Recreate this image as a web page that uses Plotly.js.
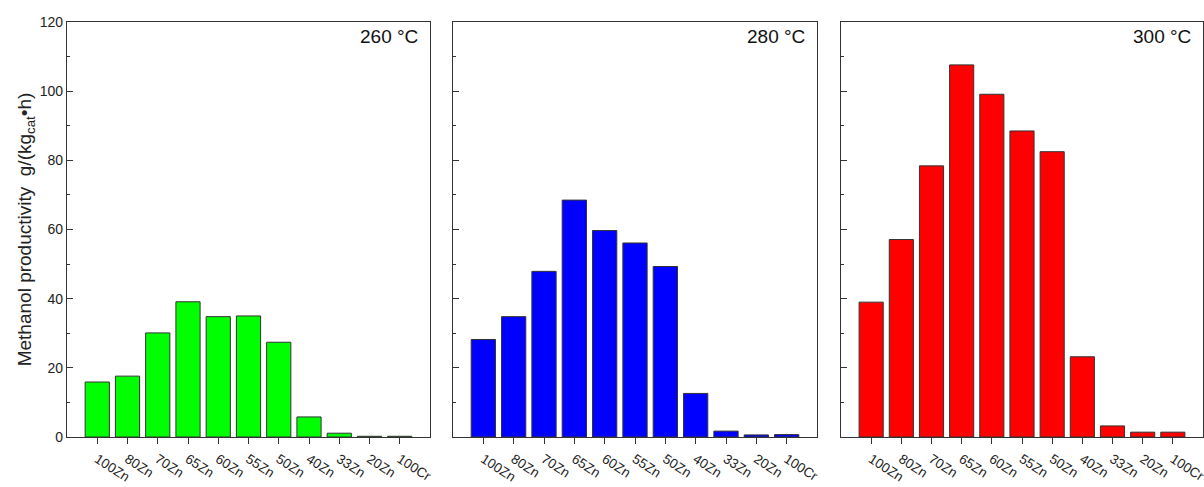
<!DOCTYPE html>
<html>
<head>
<meta charset="utf-8">
<script src="https://cdn.plot.ly/plotly-3.0.1.min.js"></script>
<style>html,body{margin:0;padding:0;background:#fff;}#chart{width:1204px;height:487px;}</style>
</head>
<body>
<div id="chart"></div>
<script>
const categories = ['100Zn','80Zn','70Zn','65Zn','60Zn','55Zn','50Zn','40Zn','33Zn','20Zn','100Cr'];
const vals260 = [15.9, 17.6, 30.1, 39.1, 34.8, 35.0, 27.4, 5.8, 1.1, 0.2, 0.2];
const vals280 = [28.2, 34.8, 47.9, 68.5, 59.7, 56.1, 49.3, 12.6, 1.7, 0.6, 0.7];
const vals300 = [39.0, 57.1, 78.4, 107.6, 99.1, 88.5, 82.5, 23.2, 3.2, 1.4, 1.4];
const panelLabels = ['260 °C', '280 °C', '300 °C'];
const yTitle = 'Methanol productivity\u00a0\u00a0g/(kg<sub>cat</sub>•h)';

const colors = ['#00ff00', '#0000ff', '#ff0000'];
const series = [vals260, vals280, vals300];
const axisColor = '#333333';
const font = 'Liberation Sans, Arial, sans-serif';

const traces = series.map((v, i) => ({
  type: 'bar',
  x: categories,
  y: v,
  xaxis: i === 0 ? 'x' : 'x' + (i + 1),
  yaxis: i === 0 ? 'y' : 'y' + (i + 1),
  width: 0.8,
  marker: {color: colors[i], line: {color: '#333333', width: 1}},
  hoverinfo: 'x+y',
  showlegend: false
}));

const W = 1136;
const domains = [[0, (430-67)/W], [(453-67)/W, (817-67)/W], [(841-67)/W, 1]];

const layout = {
  width: 1204, height: 487,
  margin: {l: 67, r: 1, t: 22, b: 50},
  paper_bgcolor: '#ffffff', plot_bgcolor: '#ffffff',
  font: {family: font, color: '#222222'},
  bargap: 0.2,
  annotations: panelLabels.map((t, i) => ({
    text: t, showarrow: false,
    xref: (i === 0 ? 'x' : 'x' + (i + 1)) + ' domain',
    yref: (i === 0 ? 'y' : 'y' + (i + 1)) + ' domain',
    x: 1, y: 1, xanchor: 'right', yanchor: 'top', xshift: -10, yshift: -2,
    font: {size: 19, family: font, color: '#111111'}
  }))
};

for (let i = 0; i < 3; i++) {
  const xa = i === 0 ? 'xaxis' : 'xaxis' + (i + 1);
  const ya = i === 0 ? 'yaxis' : 'yaxis' + (i + 1);
  layout[xa] = {
    domain: domains[i], anchor: i === 0 ? 'y' : 'y' + (i + 1),
    type: 'category', range: [-1, 11],
    showline: true, linecolor: axisColor, linewidth: 1.3, mirror: true,
    ticks: 'outside', ticklen: 6, tickcolor: axisColor, tickwidth: 1.3,
    tickangle: 33, ticklabelstandoff: 2,
    tickfont: {size: 13.5, family: font, color: '#222222'},
    showgrid: false, zeroline: false, fixedrange: true
  };
  layout[ya] = {
    anchor: i === 0 ? 'x' : 'x' + (i + 1),
    range: [0, 120], dtick: 20, tick0: 0,
    showline: true, linecolor: axisColor, linewidth: 1.3, mirror: true,
    ticks: 'inside', ticklen: 6, tickcolor: axisColor, tickwidth: 1.3,
    minor: {dtick: 10, ticks: 'inside', ticklen: 3, tickcolor: axisColor, tickwidth: 1.2, showgrid: false},
    showticklabels: i === 0,
    tickfont: {size: 14, family: font, color: '#222222'},
    showgrid: false, zeroline: false, fixedrange: true
  };
}
layout.yaxis.title = {text: yTitle, font: {size: 19, family: font, color: '#222222'}, standoff: 3};

Plotly.newPlot('chart', traces, layout, {displayModeBar: false, responsive: false});
</script>
</body>
</html>
